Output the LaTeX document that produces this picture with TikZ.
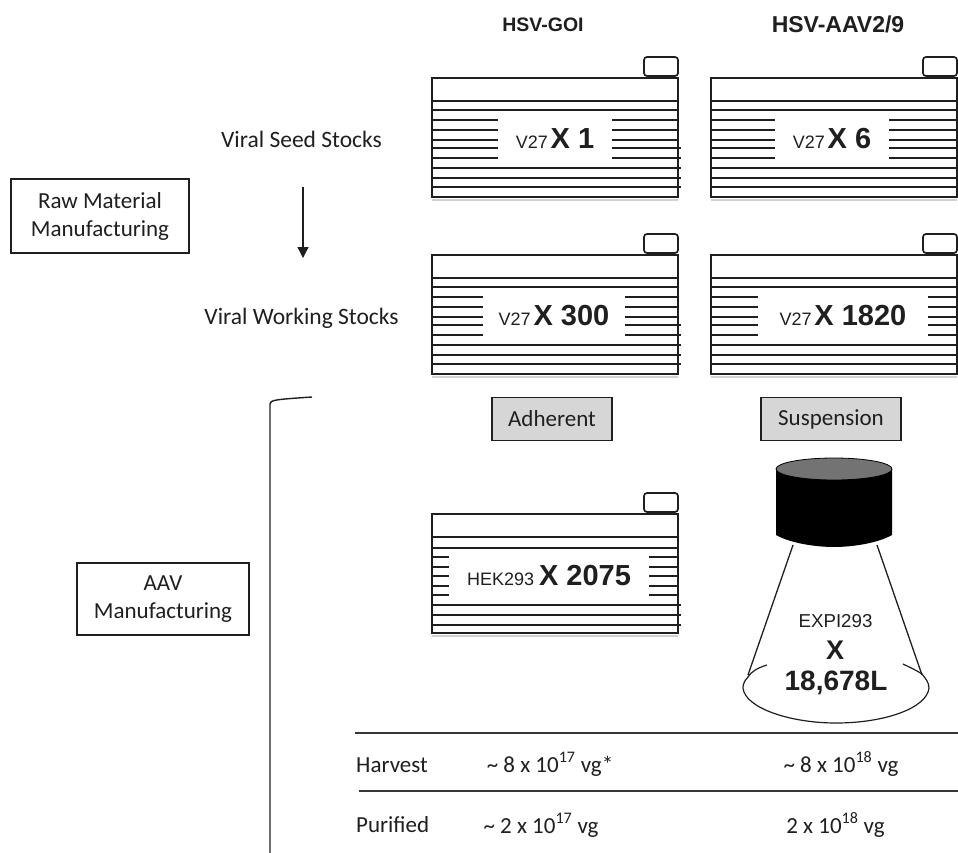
\documentclass[tikz,border=0pt]{standalone}
\usepackage{fontspec}
\setmainfont{Carlito}
\newfontfamily\arialf{Liberation Sans}
\usetikzlibrary{arrows.meta}
\definecolor{ink}{gray}{0.12}
\tikzset{
  x=1pt,y=-1pt,
  rule/.style={draw=ink!90,line width=1.5pt},
  wire/.style={draw=ink,line width=1.2pt},
  platebody/.style={draw=ink,line width=2pt,fill=white},
  platecap/.style={draw=ink,line width=1.7pt,fill=white,rounded corners=3pt},
  plateline/.style={draw=ink,line width=1.2pt},
  plateshadow/.style={draw=black!18,line width=1.6pt},
  labelpatch/.style={fill=white,inner sep=0pt,anchor=center},
  lab/.style={font=\fontsize{23}{28}\selectfont,text=ink,align=center},
  tab/.style={font=\fontsize{23}{26}\selectfont,text=ink,inner sep=0pt},
  framebox/.style={draw=ink,line width=1.4pt,fill=white,lab,inner sep=0pt},
  graybox/.style={draw=ink,line width=1.2pt,fill=black!16,lab,minimum height=43pt,inner sep=0pt},
  head/.style={text=ink,font=\arialf\bfseries},
  plabel/.style={text=ink,font=\arialf},
}
\newcommand{\smallt}[1]{{\fontsize{18}{20}\selectfont #1}}
\newcommand{\bigt}[1]{{\fontsize{29}{32}\selectfont\bfseries #1}}
% #1 left, #2 top, #3 name, #4 patch width, #5 patch height, #6 text, #7 patch centre x
\newcommand{\plate}[7]{%
  \begin{scope}[shift={(#1,#2)}]
    \draw[plateshadow] (5,5) -- (244,5);
    \draw[plateshadow] (0,122) -- (246,122);
    \draw[platecap] (212,-21) rectangle (246,-2);
    \path[platebody] (0,0) rectangle (246,119);
    \foreach \yy in {23,32,42,52,62}{\draw[plateline] (0,\yy) -- (246,\yy);}
    \foreach \yy in {70,80,90,100,109}{\draw[plateline] (0,\yy) -- (249,\yy);}
    \path[draw=ink,line width=2pt] (0,0) rectangle (246,119);
    \node[labelpatch,minimum width=#4,minimum height=#5] (#3) at (#7,61) {};
    \node[plabel] at (#3) {#6};
  \end{scope}}
\begin{document}
\begin{tikzpicture}
\useasboundingbox (0,0) rectangle (958,853);
\clip (0,0) rectangle (958,853);
\fill[white] (0,0) rectangle (958,853);

\node[head,font=\arialf\bfseries\fontsize{19.5}{22}\selectfont] (hgoi) at (543,25) {HSV-GOI};
\node[head,font=\arialf\bfseries\fontsize{23}{26}\selectfont] (haav) at (838,24) {HSV-AAV2/9};

\plate{432}{78}{p1}{114pt}{45pt}{\smallt{V27} \bigt{X 1}}{123}
\plate{711}{78}{p2}{114pt}{45pt}{\smallt{V27} \bigt{X 6}}{121}
\plate{432}{255}{p3}{142pt}{45pt}{\smallt{V27} \bigt{X 300}}{122}
\plate{711}{255}{p4}{170pt}{45pt}{\smallt{V27} \bigt{X 1820}}{132}

\node[lab,font=\fontsize{23.5}{28}\selectfont] (seed) at (301.5,139) {Viral Seed Stocks};
\node[lab,font=\fontsize{23.5}{28}\selectfont] (work) at (301.5,318) {Viral Working Stocks};
\coordinate (arrowa) at (303,187);
\coordinate (arrowb) at (303,258);
\draw[wire,-{Stealth[length=11pt,width=11pt,inset=0pt]}] (arrowa) -- (arrowb);

\node[framebox,minimum width=178pt,minimum height=74pt] (raw) at (100,216) {Raw Material\\Manufacturing};
\node[framebox,minimum width=172pt,minimum height=72pt] (aav) at (163,599) {AAV\\Manufacturing};

\node[graybox,minimum width=120pt] (adh) at (552,419) {Adherent};
\node[graybox,minimum width=140pt] (sus) at (831,419) {Suspension};

% bracket
\coordinate (bra) at (270,855);
\coordinate (brb) at (312,397);
\draw[wire,line width=1.4pt] (bra) -- (270,404) .. controls (270,400) and (275,399.5) .. (brb);

% HEK plate
\begin{scope}[shift={(432,514)}]
  \draw[plateshadow] (5,5) -- (244,5);
  \draw[plateshadow] (0,122) -- (246,122);
  \draw[platecap] (212,-21) rectangle (246,-2);
  \path[platebody] (0,0) rectangle (246,119);
  \foreach \yy in {23,34,43,53,62,72,81}{\draw[plateline] (0,\yy) -- (246,\yy);}
  \foreach \yy in {91,101,111}{\draw[plateline] (0,\yy) -- (249,\yy);}
  \path[draw=ink,line width=2pt] (0,0) rectangle (246,119);
  \node[labelpatch,minimum width=200pt,minimum height=55pt] (p5) at (117,62) {};
  \draw[plateline] (0,34) -- (246,34);
  \draw[plateline] (0,91) -- (249,91);
  \node[plabel] at (p5) {\smallt{HEK293}\hspace{5pt}\bigt{X 2075}};
\end{scope}

% flask
\fill[black] (776,469) -- (776,535) .. controls (790,543) and (815,547) .. (834,547) .. controls (853,547) and (878,543) .. (892,535) -- (892,469) -- cycle;
\draw[black,fill=black!55,line width=.8pt] (834,469) ellipse[x radius=58,y radius=11];
\coordinate (fla) at (793,545);
\coordinate (flb) at (748,675);
\coordinate (flc) at (877,545);
\coordinate (fld) at (922,675);
\draw[wire,line width=1.3pt] (fla) -- (flb);
\draw[wire,line width=1.3pt] (flc) -- (fld);
\draw[wire,line width=1.2pt] (767,665) .. controls (757,668) and (751,672) .. (748,677) .. controls (744,681) and (743,685) .. (743,688)
  .. controls (745,708) and (790,723) .. (836,723) .. controls (885,723) and (927,708) .. (929,688)
  .. controls (929,682) and (925,678) .. (922,674) .. controls (916,670) and (909,667) .. (903,664);
\node[plabel,font=\arialf\fontsize{18.7}{20}\selectfont] (fl1) at (835.5,621) {EXPI293};
\node[plabel,font=\arialf\bfseries\fontsize{27}{30}\selectfont] (fl2) at (835,650) {X};
\node[plabel,font=\arialf\bfseries\fontsize{28}{30}\selectfont] (fl3) at (836,683) {18,678L};

% table
\coordinate (r1a) at (355,733); \coordinate (r1b) at (958,733);
\coordinate (r2a) at (359,791); \coordinate (r2b) at (958,791);
\draw[rule] (r1a) -- (r1b);
\draw[rule] (r2a) -- (r2b);
\node[tab,anchor=base west] (t1) at (356,772) {Harvest};
\node[tab,anchor=base west] (t2) at (356,832) {Purified};
\node[tab,anchor=base] (c1) at (550,772) {\textasciitilde\ 8 x 10\textsuperscript{17} vg*};
\node[tab,anchor=base] (c2) at (841,772) {\textasciitilde\ 8 x 10\textsuperscript{18} vg};
\node[tab,anchor=base] (c3) at (541,833) {\textasciitilde\ 2 x 10\textsuperscript{17} vg};
\node[tab,anchor=base] (c4) at (835.5,833) {2 x 10\textsuperscript{18} vg};
\end{tikzpicture}
\end{document}
